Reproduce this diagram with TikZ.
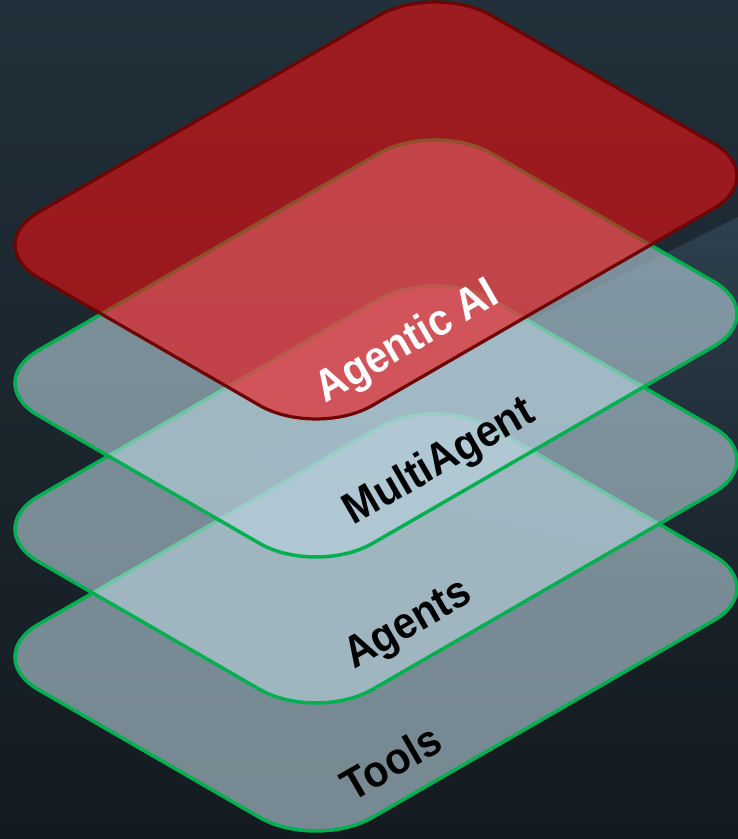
\documentclass[tikz,border=0pt]{standalone}
\usepackage{fontspec}
\setmainfont{Liberation Sans}
\definecolor{bgtop}{RGB}{33,48,58}
\definecolor{bgbot}{RGB}{20,27,32}
\definecolor{bglight}{RGB}{46,64,78}
\definecolor{redfill}{RGB}{246,14,16}
\definecolor{redline}{RGB}{110,4,4}
\definecolor{layerfill}{RGB}{185,211,222}
\definecolor{layerline}{RGB}{0,176,80}
\begin{document}
\begin{tikzpicture}[x=1pt,y=-1pt,
  layer/.style={draw=layerline, line width=3.5pt, fill=layerfill, fill opacity=0.6, draw opacity=1, rounded corners=65pt, line join=round},
  toplayer/.style={draw=redline, line width=3.2pt, fill=redfill, fill opacity=0.58, draw opacity=1, rounded corners=65pt, line join=round},
  lbl/.style={font=\bfseries\fontsize{41}{41}\selectfont, rotate=30, yscale=1.08, inner sep=0pt, text=black}]
\useasboundingbox (0,0) rectangle (738,839);
\clip (0,0) rectangle (738,839);
% background
\shade[top color=bgtop, bottom color=bgbot] (0,0) rectangle (738,839);
\shade[top color=bglight, bottom color=bgtop!45!bgbot] (738,217) -- (250,461) -- (738,580) -- cycle;
% layers, bottom to top
\foreach \d in {412,284,138}{
  \begin{scope}[shift={(0,\d)}]
    \path[layer] (149,341.5) -- (-18,245) -- (435,-17) -- (770,176) -- (316,438) -- cycle;
  \end{scope}
}
\path[toplayer] (149,341.5) -- (-18,245) -- (435,-17) -- (770,176) -- (316,438) -- cycle;
% labels
\node[lbl, text=white] (agentic) at (408,343) {Agentic AI};
\node[lbl] (multi) at (440,463) {MultiAgent};
\node[lbl] (agents) at (409,626) {Agents};
\node[lbl] (tools) at (391,762) {Tools};
\end{tikzpicture}
\end{document}
